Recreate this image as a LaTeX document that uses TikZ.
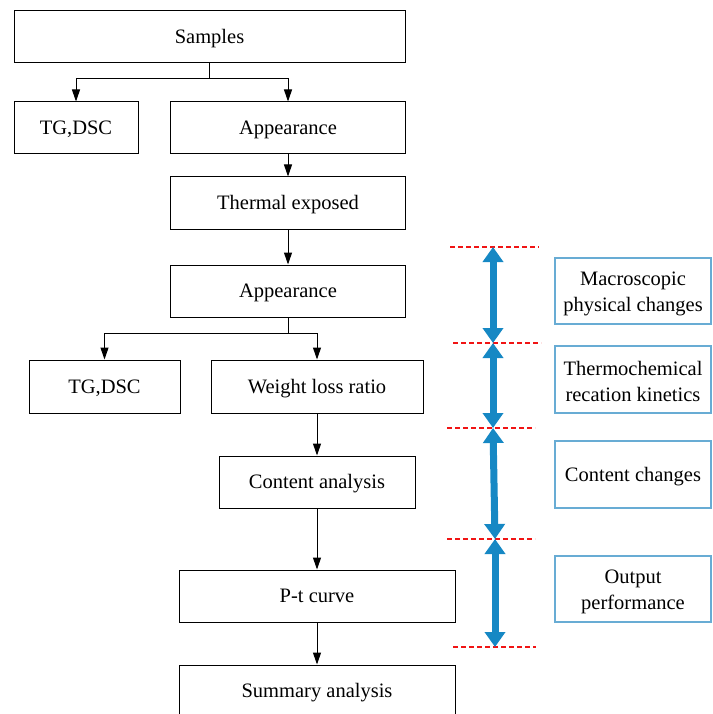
\documentclass[tikz,border=0pt]{standalone}
\usepackage{fontspec}
\setmainfont{Liberation Serif}
\usetikzlibrary{arrows.meta}
\definecolor{arrowblue}{RGB}{22,136,196}
\definecolor{boxblue}{RGB}{104,172,212}
\definecolor{sepred}{RGB}{240,20,20}
\newcommand{\toplift}{\rule{0pt}{18.5pt}}
\begin{document}
\begin{tikzpicture}[x=1pt,y=-1pt,
  box/.style={draw=black,line width=1pt,inner sep=0pt,font=\fontsize{20.5}{26}\selectfont,text height=15.5pt,text depth=2.5pt},
  rbox/.style={draw=boxblue,line width=1.2pt,inner sep=0pt,minimum width=156pt,font=\fontsize{20.5}{26}\selectfont,align=center},
  conn/.style={draw=black,line width=1pt,-{Triangle[length=12pt,width=8pt]}},
  plain/.style={draw=black,line width=1pt},
  sep/.style={draw=sepred,line width=1.3pt,dash pattern=on 5pt off 3pt},
  big/.style={draw=arrowblue,line width=7pt,{Triangle[length=15pt,width=20pt]}-{Triangle[length=15pt,width=20pt]}}]
\useasboundingbox (0,0) rectangle (712,714);
% left flow
\node[box,minimum width=391pt,minimum height=52pt] (samples) at (209.5,37) {Samples};
\node[box,minimum width=124pt,minimum height=52pt] (tg1) at (76,128) {TG,DSC};
\node[box,minimum width=235pt,minimum height=52pt] (app1) at (288,128) {Appearance};
\node[box,minimum width=235pt,minimum height=52pt] (therm) at (288,203) {Thermal exposed};
\node[box,minimum width=235pt,minimum height=52pt] (app2) at (288,291) {Appearance};
\node[box,minimum width=151pt,minimum height=53pt] (tg2) at (104.5,386.5) {TG,DSC};
\node[box,minimum width=212pt,minimum height=53pt] (weight) at (317,386.5) {Weight loss ratio};
\node[box,minimum width=196pt,minimum height=52pt] (content) at (317,482) {Content analysis};
\node[box,minimum width=276pt,minimum height=52pt] (pt) at (317,596) {P-t curve};
\node[box,minimum width=276pt,minimum height=52pt] (summary) at (317,691) {Summary analysis};
% connectors
\coordinate (s1) at (209.5,79);
\draw[plain] (samples.south) -- (s1);
\draw[conn] (s1) -| (tg1.north);
\draw[conn] (s1) -| (app1.north);
\draw[conn] (app1.south) -- (therm.north);
\draw[conn] (therm.south) -- (app2.north);
\coordinate (s2) at (288,333);
\draw[plain] (app2.south) -- (s2);
\draw[conn] (s2) -| (tg2.north);
\draw[conn] (s2) -| (weight.north);
\draw[conn] (weight.south) -- (content.north);
\draw[conn] (content.south) -- (pt.north);
\draw[conn] (pt.south) -- (summary.north);
% separators
\coordinate (d1a) at (450,247); \coordinate (d1b) at (539,247);
\coordinate (d2a) at (453,343); \coordinate (d2b) at (541,343);
\coordinate (d3a) at (447,428); \coordinate (d3b) at (535,428);
\coordinate (d4a) at (447,539); \coordinate (d4b) at (535,539);
\coordinate (d5a) at (453,647); \coordinate (d5b) at (536,647);
\draw[sep] (d1a) -- (d1b);
\draw[sep] (d2a) -- (d2b);
\draw[sep] (d3a) -- (d3b);
\draw[sep] (d4a) -- (d4b);
\draw[sep] (d5a) -- (d5b);
% blue double arrows
\coordinate (b1) at (493,247);
\coordinate (b2) at (493,343);
\coordinate (b3) at (493,428);
\coordinate (b4) at (495,539);
\coordinate (b5) at (495,647);
\draw[big] (b1) -- (b2);
\draw[big] (b2) -- (b3);
\draw[big] (b3) -- (b4);
\draw[big] (b4) -- (b5);
% right boxes
\node[rbox,minimum height=66pt] (r1) at (633,291) {\toplift Macroscopic\\physical changes};
\node[rbox,minimum height=67pt] (r2) at (633,379.5) {\toplift Thermochemical\\recation kinetics};
\node[rbox,minimum height=67pt,text height=15.5pt,text depth=2.5pt] (r3) at (633,474.5) {Content changes};
\node[rbox,minimum height=66pt] (r4) at (633,589) {\toplift Output\\performance};
\end{tikzpicture}
\end{document}
